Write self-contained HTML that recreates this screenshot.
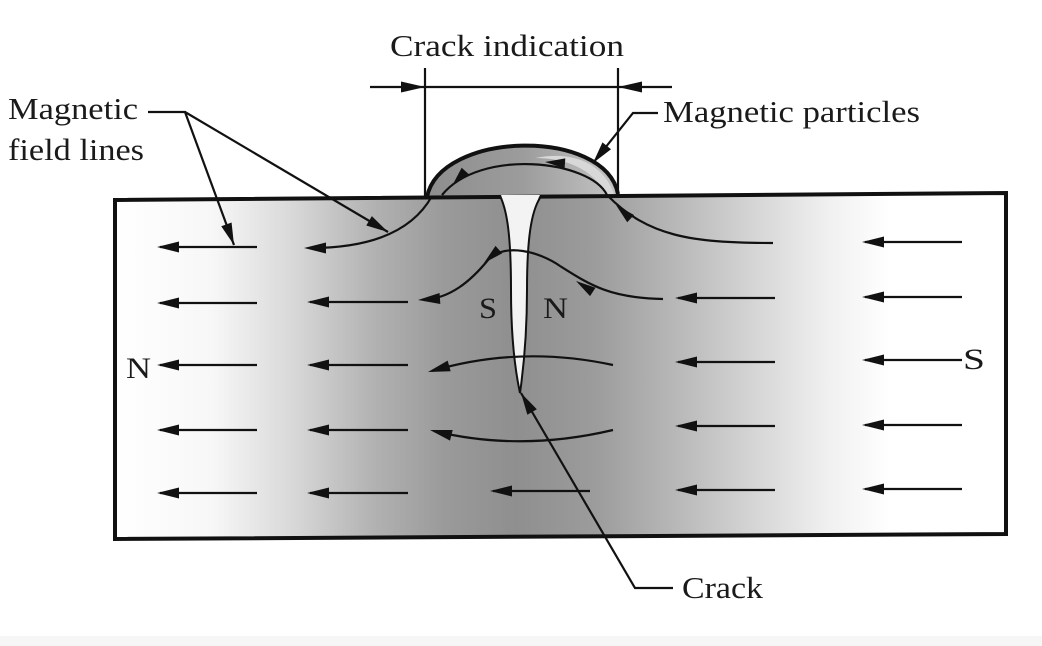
<!DOCTYPE html>
<html><head><meta charset="utf-8"><style>
html,body{margin:0;padding:0;background:#fff;}
svg{display:block;}
text{font-family:"Liberation Serif",serif;fill:#1a1a1a;}
</style></head><body>
<svg width="1042" height="646" viewBox="0 0 1042 646" xmlns="http://www.w3.org/2000/svg">
<defs>
<linearGradient id="g" gradientUnits="userSpaceOnUse" x1="115" y1="0" x2="1006" y2="0">
<stop offset="0" stop-color="#ffffff"/>
<stop offset="0.11" stop-color="#f7f7f7"/>
<stop offset="0.2" stop-color="#d8d8d8"/>
<stop offset="0.29" stop-color="#b2b2b2"/>
<stop offset="0.37" stop-color="#9a9a9a"/>
<stop offset="0.45" stop-color="#8f8f8f"/>
<stop offset="0.54" stop-color="#9c9c9c"/>
<stop offset="0.63" stop-color="#b8b8b8"/>
<stop offset="0.72" stop-color="#d6d6d6"/>
<stop offset="0.8" stop-color="#f0f0f0"/>
<stop offset="0.87" stop-color="#ffffff"/>
<stop offset="1" stop-color="#ffffff"/>
</linearGradient>
<linearGradient id="bg" gradientUnits="userSpaceOnUse" x1="427" y1="0" x2="618" y2="0">
<stop offset="0" stop-color="#8e8e8e"/>
<stop offset="0.5" stop-color="#9c9c9c"/>
<stop offset="1" stop-color="#c4c4c4"/>
</linearGradient>
</defs>

<!-- bottom strip -->
<rect x="0" y="636" width="1042" height="10" fill="#f6f6f6"/>

<!-- bar fill -->
<polygon points="115,200 1006,193 1006,534 115,539" fill="url(#g)"/>
<!-- bump fill -->
<path d="M427,197 C440,131 605,127 618,194 Z" fill="url(#bg)"/>
<path d="M607,195 C592,168 565,158 535,158 C575,150 604,165 614,194 Z" fill="#d8d8d8"/>

<!-- bar border -->
<polygon points="115,200 1006,193 1006,534 115,539" fill="none" stroke="#111" stroke-width="4"/>
<!-- bump outline -->
<path d="M427,197 C440,131 605,127 618,194" fill="none" stroke="#111" stroke-width="4"/>

<!-- crack -->
<path d="M501,195 C507,212 511,235 511,290 C511,330 514,365 520,393 C524,365 527,330 527,290 C527,240 531,212 540,195 Z" fill="#f3f3f3"/>
<path d="M501,198 C507,212 511,235 511,290 C511,330 514,365 520,393 C524,365 527,330 527,290 C527,240 531,212 540,198" fill="none" stroke="#111" stroke-width="2"/>

<g fill="none" stroke="#111" stroke-width="2.2">
<!-- dimension -->
<line x1="370" y1="87" x2="672" y2="87"/>
<line x1="425" y1="68" x2="425" y2="198"/>
<line x1="618" y1="68" x2="618" y2="195"/>
<!-- leaders -->
<polyline points="148,112 185,112 234,245"/>
<line x1="185" y1="112" x2="388" y2="232"/>
<polyline points="658,113 633,113 593,163"/>
<polyline points="673,588 635,588 521,393"/>
<!-- field lines curves -->
<path d="M773,243 C690,243 648,236 608,196"/>
<path d="M607,195 C590,160 480,148 442,195"/>
<path d="M432,196 C412,232 370,248 310,248"/>
<path d="M663,299 C610,298 590,285 560,266 C540,252 505,242 488,260 C470,282 450,298 424,300"/>
<path d="M613,365 Q520,345 432,371"/>
<path d="M613,430 Q520,452 434,431"/>
<!-- straight arrows -->
<line x1="160" y1="247" x2="257" y2="247"/>
<line x1="865" y1="242" x2="962" y2="242"/>
<line x1="160" y1="303" x2="257" y2="303"/>
<line x1="310" y1="302" x2="408" y2="302"/>
<line x1="678" y1="298" x2="775" y2="298"/>
<line x1="865" y1="297" x2="962" y2="297"/>
<line x1="160" y1="365" x2="257" y2="365"/>
<line x1="310" y1="365" x2="408" y2="365"/>
<line x1="678" y1="362" x2="775" y2="362"/>
<line x1="865" y1="360" x2="962" y2="360"/>
<line x1="160" y1="430" x2="257" y2="430"/>
<line x1="310" y1="430" x2="408" y2="430"/>
<line x1="678" y1="426" x2="775" y2="426"/>
<line x1="865" y1="425" x2="962" y2="425"/>
<line x1="160" y1="493" x2="257" y2="493"/>
<line x1="310" y1="493" x2="408" y2="493"/>
<line x1="493" y1="491" x2="590" y2="491"/>
<line x1="678" y1="490" x2="775" y2="490"/>
<line x1="865" y1="489" x2="962" y2="489"/>
</g>

<!-- arrowheads -->
<g fill="#111">
<polygon points="157,247 179,241.5 179,252.5"/>
<polygon points="862,242 884,236.5 884,247.5"/>
<polygon points="157,303 179,297.5 179,308.5"/>
<polygon points="307,302 329,296.5 329,307.5"/>
<polygon points="675,298 697,292.5 697,303.5"/>
<polygon points="862,297 884,291.5 884,302.5"/>
<polygon points="157,365 179,359.5 179,370.5"/>
<polygon points="307,365 329,359.5 329,370.5"/>
<polygon points="675,362 697,356.5 697,367.5"/>
<polygon points="862,360 884,354.5 884,365.5"/>
<polygon points="157,430 179,424.5 179,435.5"/>
<polygon points="307,430 329,424.5 329,435.5"/>
<polygon points="675,426 697,420.5 697,431.5"/>
<polygon points="862,425 884,419.5 884,430.5"/>
<polygon points="157,493 179,487.5 179,498.5"/>
<polygon points="307,493 329,487.5 329,498.5"/>
<polygon points="490,491 512,485.5 512,496.5"/>
<polygon points="675,490 697,484.5 697,495.5"/>
<polygon points="862,489 884,483.5 884,494.5"/>
<!-- curve end arrows -->
<polygon points="304,248 326,242.5 326,253.5"/>
<polygon points="418,300 440,294.5 440,305.5" transform="rotate(-4 418 300)"/>
<polygon transform="translate(428,372) rotate(-16)" points="0,0 22,-5.5 22,5.5"/>
<polygon transform="translate(430,430) rotate(14)" points="0,0 22,-5.5 22,5.5"/>
<!-- mid-curve arrows -->
<polygon transform="translate(616,205) rotate(43)" points="0,0 20,-5 20,5"/>
<polygon transform="translate(545,162) rotate(4)" points="0,0 20,-5 20,5"/>
<polygon transform="translate(452,186) rotate(-48)" points="0,0 20,-5 20,5"/>
<polygon transform="translate(576,281) rotate(33)" points="0,0 20,-5 20,5"/>
<polygon transform="translate(484,263) rotate(-42)" points="0,0 20,-5 20,5"/>
<!-- dimension arrows -->
<polygon points="425,87 401,81.5 401,92.5"/>
<polygon points="618,87 642,81.5 642,92.5"/>
<!-- leader arrows -->
<polygon transform="translate(234,245) rotate(-110.2)" points="0,0 22,-5.5 22,5.5"/>
<polygon transform="translate(388,232) rotate(-149.4)" points="0,0 22,-5.5 22,5.5"/>
<polygon transform="translate(593,163) rotate(-51.3)" points="0,0 22,-5.5 22,5.5"/>
<polygon transform="translate(521,393) rotate(59.7)" points="0,0 22,-5.5 22,5.5"/>
</g>

<!-- labels -->
<text x="390" y="56" font-size="31" textLength="234" lengthAdjust="spacingAndGlyphs">Crack indication</text>
<text x="663" y="122" font-size="31" textLength="257" lengthAdjust="spacingAndGlyphs">Magnetic particles</text>
<text x="8" y="119" font-size="31" textLength="130" lengthAdjust="spacingAndGlyphs">Magnetic</text>
<text x="8" y="160" font-size="31" textLength="136" lengthAdjust="spacingAndGlyphs">field lines</text>
<text x="682" y="598" font-size="31" textLength="81" lengthAdjust="spacingAndGlyphs">Crack</text>
<text x="126" y="378" font-size="30" textLength="25" lengthAdjust="spacingAndGlyphs">N</text>
<text x="963" y="369" font-size="30" textLength="22" lengthAdjust="spacingAndGlyphs">S</text>
<text x="479" y="318" font-size="30" textLength="18" lengthAdjust="spacingAndGlyphs">S</text>
<text x="543" y="318" font-size="30" textLength="25" lengthAdjust="spacingAndGlyphs">N</text>
</svg>
</body></html>
